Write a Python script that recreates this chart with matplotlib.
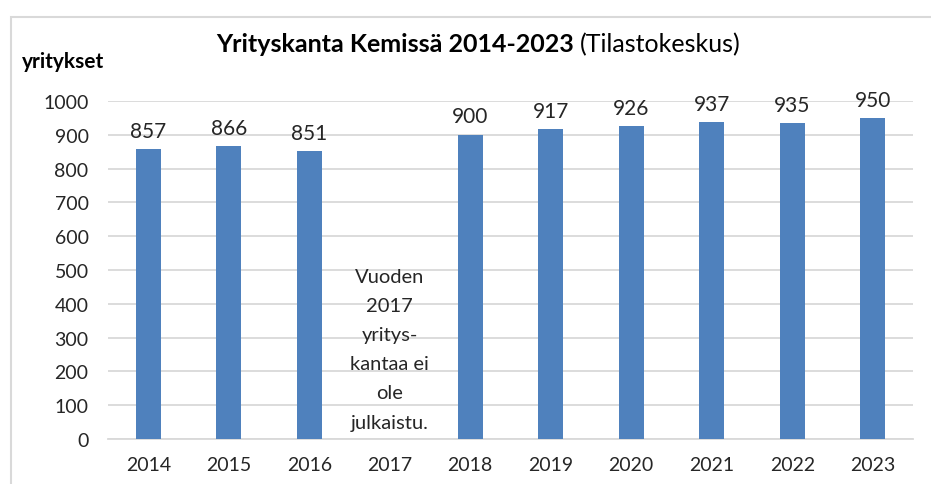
import numpy as np
import matplotlib

matplotlib.use("Agg")
import matplotlib.pyplot as plt
from matplotlib.patches import Rectangle

years = ["2014", "2015", "2016", "2017", "2018", "2019", "2020", "2021", "2022", "2023"]
counts = [857, 866, 851, None, 900, 917, 926, 937, 935, 950]
yticks = [0, 100, 200, 300, 400, 500, 600, 700, 800, 900, 1000]
note = "Vuoden\n2017\nyritys-\nkantaa ei\nole\njulkaistu."

BAR = "#4F81BD"
GRID = "#D9D9D9"
TXT = "#262626"
plt.rcParams["font.family"] = ["Lato", "DejaVu Sans"]

W, H = 931, 485
fig = plt.figure(figsize=(W / 100, H / 100), dpi=100)
ax = fig.add_axes([108 / W, 45 / H, (913 - 108) / W, (440 - 102) / H])

x = np.arange(len(years))
have = [i for i, v in enumerate(counts) if v is not None]
vals = [counts[i] for i in have]
ax.bar(have, vals, width=0.31, color=BAR, zorder=3)
for i, v in zip(have, vals):
    ax.annotate(str(v), (i, v), xytext=(0, 6), textcoords="offset points",
                ha="center", va="bottom", fontsize=15, color=TXT, annotation_clip=False)

# note in the empty 2017 slot
ax.text(3, 266, note, ha="center", va="center", fontsize=14.5, color=TXT,
        linespacing=1.87, zorder=4)

ax.set_xlim(-0.5, len(years) - 0.5)
ax.set_ylim(0, 1000)
ax.set_xticks(x)
ax.set_xticklabels(years)
ax.set_yticks(yticks)
ax.tick_params(length=0, labelsize=14, colors=TXT)
ax.tick_params(axis="x", pad=12)
ax.tick_params(axis="y", pad=14)
ax.grid(axis="y", color=GRID, lw=1.3, zorder=0)
for s in ["top", "right", "left"]:
    ax.spines[s].set_visible(False)
ax.spines["bottom"].set_color(GRID)
ax.spines["bottom"].set_linewidth(1.3)

fig.text(574 / W, 1 - 45 / H, "Yrityskanta Kemissä 2014-2023", ha="right", va="center",
         fontsize=18, fontweight="bold", color="black")
fig.text(580 / W, 1 - 45 / H, "(Tilastokeskus)", ha="left", va="center",
         fontsize=18, color="black")
fig.text(22 / W, 1 - 62 / H, "yritykset", ha="left", va="center",
         fontsize=15, fontweight="bold", color="black")

fig.patches.append(Rectangle((11 / W, -0.1), 1.2, 1 - 18 / H + 0.1, transform=fig.transFigure,
                             fill=False, edgecolor="#D9D9D9", lw=1.5))

fig.savefig("out.png", dpi=100)
